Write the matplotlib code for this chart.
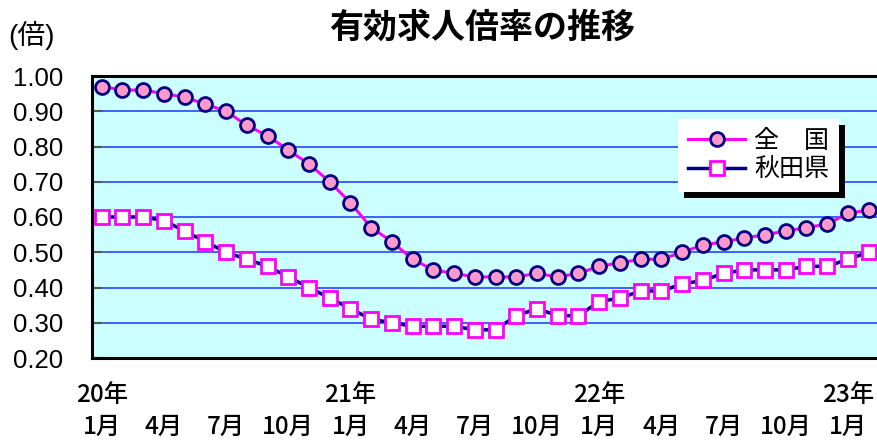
import matplotlib
matplotlib.use('Agg')
import matplotlib.pyplot as plt
from matplotlib.patches import Rectangle
from matplotlib.transforms import IdentityTransform, blended_transform_factory, offset_copy

plt.rcParams['font.family'] = ['Liberation Sans', 'Noto Sans CJK JP']
xfont = ['Liberation Sans Narrow', 'Noto Sans CJK JP']

# 20年1月 .. 23年2月, monthly
zenkoku = [0.97, 0.96, 0.96, 0.95, 0.94, 0.92, 0.90, 0.86, 0.83, 0.79, 0.75, 0.70,
           0.64, 0.57, 0.53, 0.48, 0.45, 0.44, 0.43, 0.43, 0.43, 0.44, 0.43, 0.44,
           0.46, 0.47, 0.48, 0.48, 0.50, 0.52, 0.53, 0.54, 0.55, 0.56, 0.57, 0.58,
           0.61, 0.62]
akita = [0.60, 0.60, 0.60, 0.59, 0.56, 0.53, 0.50, 0.48, 0.46, 0.43, 0.40, 0.37,
         0.34, 0.31, 0.30, 0.29, 0.29, 0.29, 0.28, 0.28, 0.32, 0.34, 0.32, 0.32,
         0.36, 0.37, 0.39, 0.39, 0.41, 0.42, 0.44, 0.45, 0.45, 0.45, 0.46, 0.46,
         0.48, 0.50]

month_pos = list(range(0, 37, 3))
month_labels = ['1月', '4月', '7月', '10月'] * 3 + ['1月']
year_pos = [0, 12, 24, 36]
year_labels = ['20年', '21年', '22年', '23年']
y_ticks = [0.2, 0.3, 0.4, 0.5, 0.6, 0.7, 0.8, 0.9, 1.0]

fig = plt.figure(figsize=(8.78, 4.42), dpi=100)
ax = fig.add_axes([92 / 878, 1 - 358 / 442, 1 - 92 / 878, (358 - 76) / 442])
ax.set_facecolor('#CCFFFF')

x = list(range(len(zenkoku)))
ax.plot(x, zenkoku, color='#FF00FF', lw=2.2, marker='o', ms=10,
        mfc='#FF99CC', mec='#000080', mew=2, label='全　国', zorder=3)
ax.plot(x, akita, color='#000080', lw=2.5, marker='s', ms=10,
        mfc='white', mec='#FF00FF', mew=2, label='秋田県', zorder=3)

ax.set_xlim(-0.47, 37.45)
ax.set_ylim(0.2, 1.0)
ax.set_yticks(y_ticks)
ax.set_yticklabels(['{:.2f}'.format(v) for v in y_ticks])
ax.yaxis.grid(True, color='#3355FF', lw=1.3)
ax.set_axisbelow(True)
ax.tick_params(axis='y', direction='in', length=7, width=1.5, color='#555555',
               pad=21, labelsize=18.5)

ax.set_xticks(month_pos)
ax.set_xticklabels(month_labels, family=xfont, fontweight='medium')
ax.tick_params(axis='x', length=0, pad=40, labelsize=17.5)

trans = blended_transform_factory(ax.transData, ax.transAxes)
trans = offset_copy(trans, fig=fig, y=-37, units='dots')
for p, lbl in zip(year_pos, year_labels):
    ax.text(p, 0, lbl, transform=trans, ha='center', va='center', family=xfont,
            fontsize=17.5, fontweight='medium', clip_on=False)

for side in ['left', 'bottom', 'top']:
    ax.spines[side].set_linewidth(2.2)
    ax.spines[side].set_color('black')
ax.spines['right'].set_visible(False)

fig.text(482 / 878, 1 - 28 / 442, '有効求人倍率の推移', ha='center', va='center',
         fontsize=24.5, fontweight='bold')
fig.text(8 / 878, 1 - 35 / 442, '(倍)', ha='left', va='center', fontsize=20)

leg = ax.legend(loc='upper left', bbox_to_anchor=(0.7455, 0.8475), borderaxespad=0,
                fontsize=18, fancybox=False, framealpha=1, edgecolor='white',
                handlelength=2.3, handletextpad=0.35, labelspacing=0.2, borderpad=0.4)
leg.get_frame().set_linewidth(0)

# black drop shadow behind the legend box
fig.canvas.draw()
bb = leg.get_window_extent()
ax.add_patch(Rectangle((bb.x0 + 6, bb.y0 - 6), bb.width, bb.height,
                       transform=IdentityTransform(), facecolor='black',
                       edgecolor='none', zorder=4.9, clip_on=False))

fig.savefig('out.png', dpi=100)
